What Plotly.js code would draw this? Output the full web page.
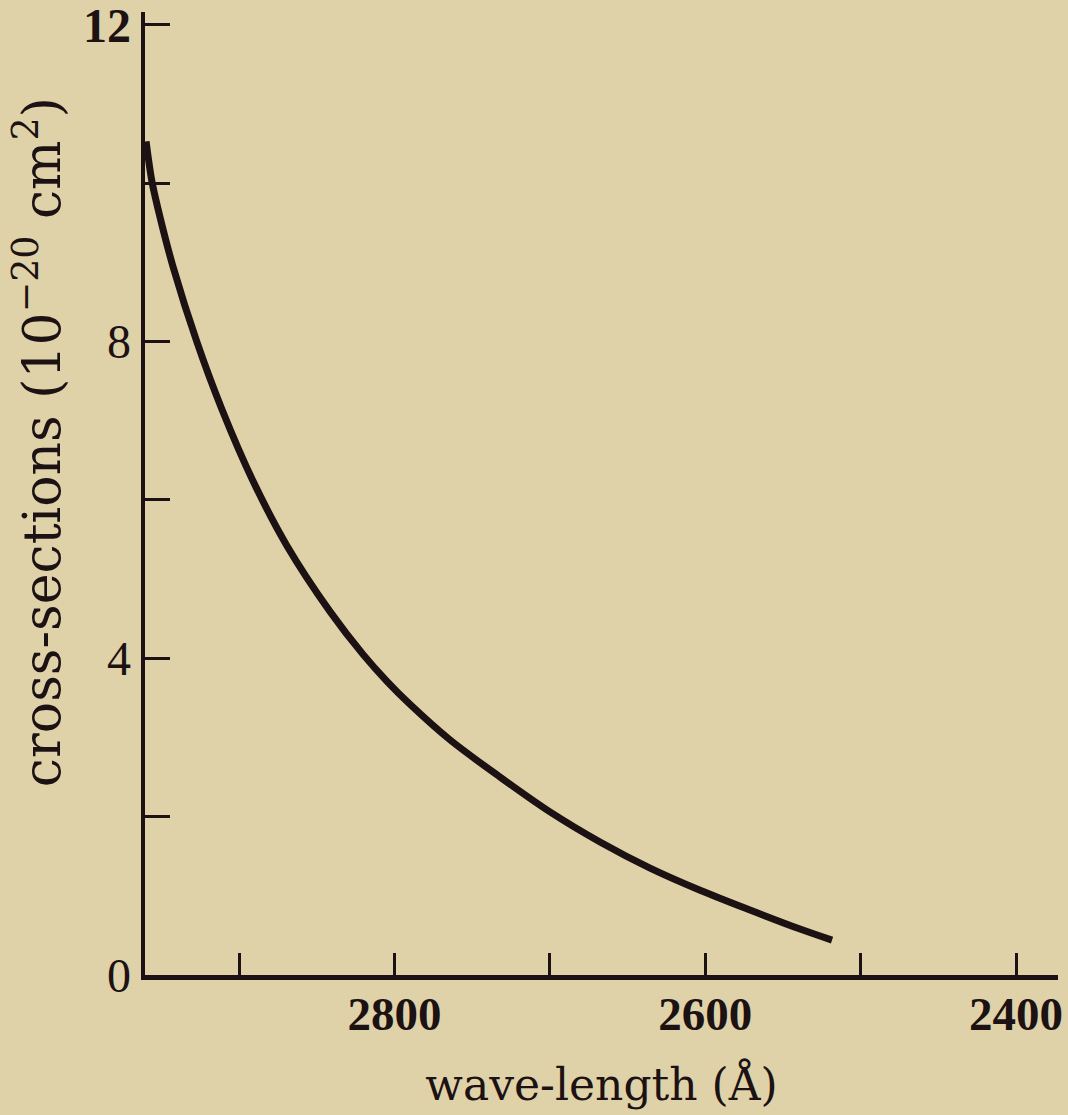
<!DOCTYPE html>
<html>
<head>
<meta charset="utf-8">
<script src="https://cdn.plot.ly/plotly-3.0.1.min.js"></script>
<style>
  html, body { margin: 0; padding: 0; background: #e0d2a8; }
  #chart { width: 1068px; height: 1115px; }
</style>
</head>
<body>
<div id="chart"></div>
<script>
// Wave-length (Å) and cross-sections (10^-20 cm^2)
const wavelength = [2959.8, 2956.0, 2950.8, 2942.5, 2927.0, 2910.9, 2891.0, 2869.1, 2841.4, 2820.2, 2804.8, 2790.0, 2764.2, 2732.0, 2699.9, 2667.7, 2635.5, 2603.3, 2571.2, 2539.0, 2518.4];
const crossSection = [10.53, 10.02, 9.57, 8.95, 7.99, 7.14, 6.24, 5.42, 4.59, 4.05, 3.71, 3.42, 2.97, 2.50, 2.06, 1.68, 1.35, 1.07, 0.82, 0.58, 0.44];

const xTickVals = [2800, 2600, 2400];
const xTickText = ['<b>2800</b>', '<b>2600</b>', '<b>2400</b>'];
const xMinorVals = [2900, 2700, 2500];
const yTickVals = [0, 4, 8, 12];
const yTickText = ['0', '4', '8', '<b>12</b>'];
const yMinorVals = [2, 6, 10];

const xTitle = 'wave-length (Å)';
const yTitle = 'cross-sections (10<sup>−20</sup> cm<sup>2</sup>)';

const ink = '#1c1214';
const paper = '#e0d2a8';

const trace = {
  x: wavelength,
  y: crossSection,
  type: 'scatter',
  mode: 'lines',
  line: { color: ink, width: 7, shape: 'spline', smoothing: 0.9 },
  hoverinfo: 'skip'
};

const layout = {
  width: 1068,
  height: 1115,
  paper_bgcolor: paper,
  plot_bgcolor: paper,
  showlegend: false,
  margin: { l: 145, r: 10, t: 12, b: 140 },
  font: { family: 'Liberation Serif, serif', color: ink },
  xaxis: {
    range: [2960.5, 2373],
    showgrid: false,
    zeroline: false,
    showline: true,
    linecolor: ink,
    linewidth: 4.5,
    ticks: 'inside',
    ticklen: 22,
    tickwidth: 3,
    tickcolor: ink,
    tickmode: 'array',
    tickvals: xTickVals,
    ticktext: xTickText,
    minor: { tickmode: 'array', tickvals: xMinorVals, ticks: 'inside', ticklen: 22, tickwidth: 3, tickcolor: ink, showgrid: false },
    tickfont: { family: 'Liberation Serif, serif', size: 47, color: ink },
    ticklabelstandoff: -6,
    automargin: false,
    title: {
      text: xTitle,
      font: { family: 'DejaVu Serif, serif', size: 44, color: ink },
      standoff: 32
    }
  },
  yaxis: {
    range: [0, 12.164],
    showgrid: false,
    zeroline: false,
    showline: true,
    linecolor: ink,
    linewidth: 4.5,
    ticks: 'inside',
    ticklen: 25,
    tickwidth: 3,
    tickcolor: ink,
    tickmode: 'array',
    tickvals: yTickVals,
    ticktext: yTickText,
    minor: { tickmode: 'array', tickvals: yMinorVals, ticks: 'inside', ticklen: 25, tickwidth: 3, tickcolor: ink, showgrid: false },
    tickfont: { family: 'Liberation Serif, serif', size: 48, color: ink },
    ticklabeloverflow: 'allow',
    automargin: false
  },
  annotations: [{
    text: yTitle,
    xref: 'paper',
    yref: 'paper',
    x: -0.117,
    y: 0.5535,
    xanchor: 'center',
    yanchor: 'middle',
    textangle: -90,
    showarrow: false,
    font: { family: 'DejaVu Serif, serif', size: 52, color: ink }
  }]
};

Plotly.newPlot('chart', [trace], layout, { staticPlot: true, displayModeBar: false });
</script>
</body>
</html>
